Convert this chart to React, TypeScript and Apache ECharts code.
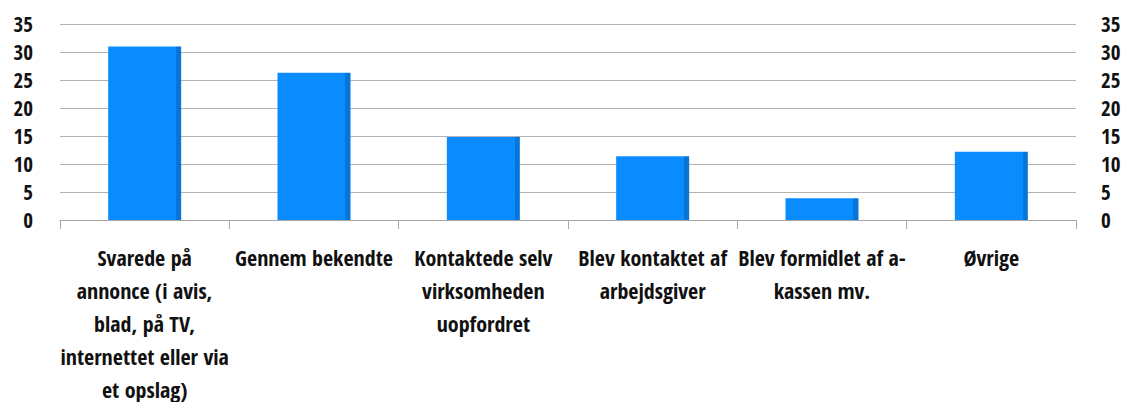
import React, { useEffect, useRef } from "react";
import * as echarts from "echarts";

const categories = [
  "Svarede på\nannonce (i avis,\nblad, på TV,\ninternettet eller via\net opslag)",
  "Gennem bekendte",
  "Kontaktede selv\nvirksomheden\nuopfordret",
  "Blev kontaktet af\narbejdsgiver",
  "Blev formidlet af a-\nkassen mv.",
  "Øvrige",
];
const values = [31, 26.3, 14.8, 11.4, 3.9, 12.2];
const FONT = "'Open Sans Condensed', 'Roboto Condensed', sans-serif";

export default function App() {
  const ref = useRef<HTMLDivElement>(null);
  useEffect(() => {
    const chart = echarts.init(ref.current!, null, { renderer: "svg" });
    const yAxisCommon = {
      type: "value" as const,
      min: 0,
      max: 35,
      interval: 5,
      axisLine: { show: false },
      axisTick: { show: false },
      axisLabel: {
        fontFamily: FONT,
        fontWeight: "bold" as const,
        fontSize: 21,
        color: "#111",
      },
    };
    chart.setOption({
      animation: false,
      grid: {
        left: 60,
        right: 53,
        top: 24,
        bottom: 182,
        containLabel: false,
        outerBoundsMode: "none",
      },
      xAxis: {
        type: "category",
        data: categories,
        axisLine: { lineStyle: { color: "#a6a6a6", width: 1 } },
        axisTick: { show: true, length: 9, lineStyle: { color: "#a6a6a6" } },
        axisLabel: {
          interval: 0,
          margin: 20,
          fontFamily: FONT,
          fontWeight: "bold",
          fontSize: 22,
          lineHeight: 33,
          color: "#111",
          align: "center",
        },
      },
      yAxis: [
        {
          ...yAxisCommon,
          position: "left",
          axisLabel: { ...yAxisCommon.axisLabel, margin: 27 },
          splitLine: { show: true, lineStyle: { color: "#b3b3b3", width: 1 } },
        },
        {
          ...yAxisCommon,
          position: "right",
          axisLabel: { ...yAxisCommon.axisLabel, margin: 25, align: "left" },
          splitLine: { show: false },
        },
      ],
      series: [
        {
          type: "bar",
          data: values,
          barWidth: 73,
          itemStyle: {
            color: new echarts.graphic.LinearGradient(0, 0, 1, 0, [
              { offset: 0, color: "#0a8cff" },
              { offset: 0.93, color: "#0a8cff" },
              { offset: 0.93, color: "#0576d8" },
              { offset: 1, color: "#0576d8" },
            ]),
          },
        },
      ],
    });
    return () => chart.dispose();
  }, []);
  return <div ref={ref} style={{ width: 1129, height: 402, position: "absolute", left: 0, top: 0 }} />;
}
